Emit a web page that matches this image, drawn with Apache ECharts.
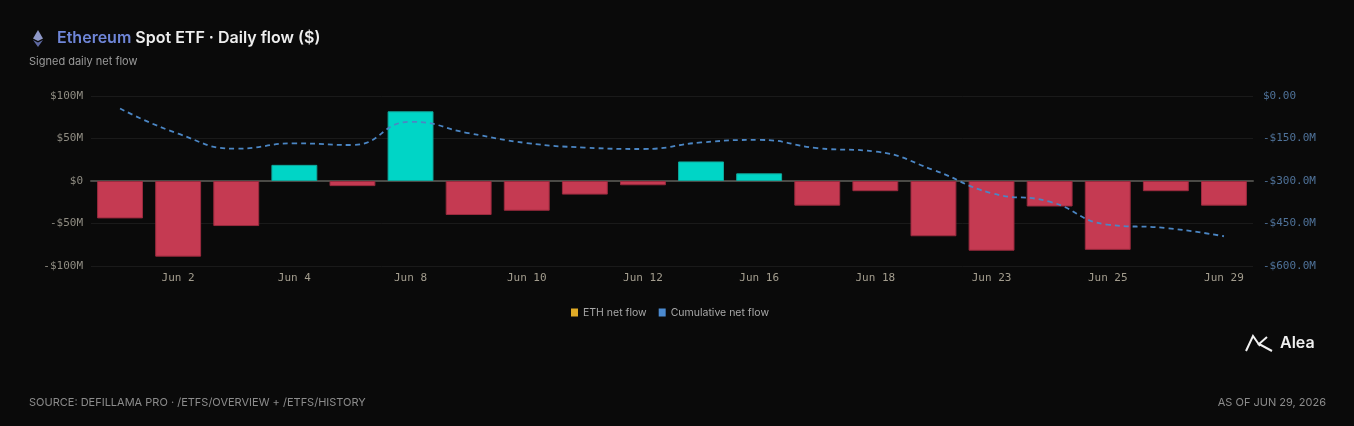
<!DOCTYPE html>
<html lang="en">
<head>
    <meta charset="UTF-8">
    <title>Ethereum Spot ETF - Daily flow</title>
    <style>
        html, body { margin: 0; padding: 0; background: #0a0a0a; }
        #main { width: 1354px; height: 426px; }
    </style>
</head>
<body>
    <div id="main"></div>
    <script src="https://cdn.jsdelivr.net/npm/echarts@6/dist/echarts.min.js"></script>
    <script>
        // trading days, June 2026 (Jun 19 closed)
        var days = ['Jun 1', 'Jun 2', 'Jun 3', 'Jun 4', 'Jun 5', 'Jun 8', 'Jun 9', 'Jun 10', 'Jun 11', 'Jun 12',
                    'Jun 15', 'Jun 16', 'Jun 17', 'Jun 18', 'Jun 22', 'Jun 23', 'Jun 24', 'Jun 25', 'Jun 26', 'Jun 29'];
        // daily net flow, $M
        var netFlow = [-44, -89, -53, 19, -6, 82, -40, -35, -16, -5,
                       23, 9, -29, -12, -65, -82, -30, -81, -12, -29];
        // cumulative net flow, $M
        var cumFlow = [-44, -133, -186, -167, -173, -91, -131, -166, -182, -187,
                       -164, -155, -184, -196, -261, -343, -373, -454, -466, -495];
        var leftTicks = { min: -100, max: 100, step: 50 };
        var rightTicks = { min: -600, max: 0, step: 150 };

        var UP = '#00d5c6', DOWN = '#c53a52';
        var mono = '"DejaVu Sans Mono", monospace';
        var sans = 'Inter, "Noto Sans", sans-serif';

        var myChart = echarts.init(document.getElementById('main'));

        var barData = netFlow.map(function (v) {
            return {
                value: v,
                itemStyle: v >= 0
                    ? { color: UP, borderColor: '#10a89c', borderWidth: 1 }
                    : { color: DOWN, borderColor: '#9a2a3e', borderWidth: 1 }
            };
        });

        var option = {
            backgroundColor: '#0a0a0a',
            animation: false,
            title: [{
                left: 52,
                top: 25,
                text: '{eth|Ethereum} Spot ETF · Daily flow ($)',
                textStyle: {
                    color: '#eeeeee', fontSize: 16, fontWeight: 600, fontFamily: sans,
                    rich: { eth: { color: '#6f86d8', fontSize: 16, fontWeight: 600, fontFamily: sans } }
                }
            }, {
                left: 24,
                top: 51,
                text: 'Signed daily net flow',
                textStyle: { color: '#9a9a9a', fontSize: 11, fontWeight: 'normal', fontFamily: sans }
            }],
            legend: {
                left: 566,
                top: 302,
                itemWidth: 7,
                itemHeight: 8,
                itemGap: 12,
                icon: 'rect',
                textStyle: { color: '#a8a8a8', fontSize: 10.5, fontFamily: sans },
                data: [
                    { name: 'ETH net flow', itemStyle: { color: '#e0aa26' } },
                    { name: 'Cumulative net flow', itemStyle: { color: '#4b8ad0' } }
                ]
            },
            grid: { left: 91, right: 101, top: 96, bottom: 160 },
            xAxis: {
                type: 'category',
                data: days,
                axisTick: { show: false },
                axisLine: { onZero: true, lineStyle: { color: '#4a4a46', width: 2 } },
                axisLabel: { interval: 0, color: '#a39d8e', fontFamily: mono, fontSize: 11, margin: 7,
                    formatter: function (v, i) { return i % 2 === 1 ? v : ''; } }
            },
            yAxis: [{
                type: 'value',
                min: leftTicks.min, max: leftTicks.max, interval: leftTicks.step,
                axisLine: { show: false },
                axisTick: { show: false },
                splitLine: { lineStyle: { color: '#1a1a1a', width: 1 } },
                axisLabel: {
                    color: '#8f8c82', fontFamily: mono, fontSize: 11, margin: 8,
                    formatter: function (v) {
                        if (v === 0) return '$0';
                        return (v < 0 ? '-$' : '$') + Math.abs(v) + 'M';
                    }
                }
            }, {
                type: 'value',
                min: rightTicks.min, max: rightTicks.max, interval: rightTicks.step,
                axisLine: { show: false },
                axisTick: { show: false },
                splitLine: { show: false },
                axisLabel: {
                    color: '#4f7299', fontFamily: mono, fontSize: 11, margin: 10,
                    formatter: function (v) {
                        if (v === 0) return '$0.00';
                        return '-$' + Math.abs(v).toFixed(1) + 'M';
                    }
                }
            }],
            series: [{
                name: 'ETH net flow',
                type: 'bar',
                barCategoryGap: '21%',
                itemStyle: { color: '#e0aa26' },
                data: barData
            }, {
                name: 'Cumulative net flow',
                type: 'line',
                yAxisIndex: 1,
                smooth: true,
                symbol: 'none',
                z: 5,
                itemStyle: { color: '#4b8ad0' },
                lineStyle: { color: '#4b86c4', width: 1.8, type: [5, 4] },
                data: cumFlow
            }],
            graphic: [
                // ethereum mark
                { type: 'polygon', shape: { points: [[38, 30], [43, 38.5], [38, 41], [33, 38.5]] }, style: { fill: '#8e98c8' } },
                { type: 'polygon', shape: { points: [[38, 42.5], [43, 40], [38, 47], [33, 40]] }, style: { fill: '#5d68a0' } },
                // Alea mark
                { type: 'polyline', shape: { points: [[1246, 351], [1253, 336], [1260, 346]] },
                  style: { stroke: '#f0f0f0', lineWidth: 2, fill: null } },
                { type: 'polyline', shape: { points: [[1267, 337], [1259, 344], [1272, 351]] },
                  style: { stroke: '#f0f0f0', lineWidth: 2, fill: null } },
                { type: 'text', left: 1280, top: 335,
                  style: { text: 'Alea', fill: '#f0f0f0', font: '600 16px ' + sans } },
                // footer
                { type: 'text', left: 29, top: 397,
                  style: { text: 'SOURCE: DEFILLAMA PRO · /ETFS/OVERVIEW + /ETFS/HISTORY', fill: '#8c8c8c',
                           font: '11px ' + sans } },
                { type: 'text', right: 28, top: 397,
                  style: { text: 'AS OF JUN 29, 2026', fill: '#8c8c8c', font: '11px ' + sans } }
            ]
        };

        myChart.setOption(option);
    </script>
</body>
</html>
